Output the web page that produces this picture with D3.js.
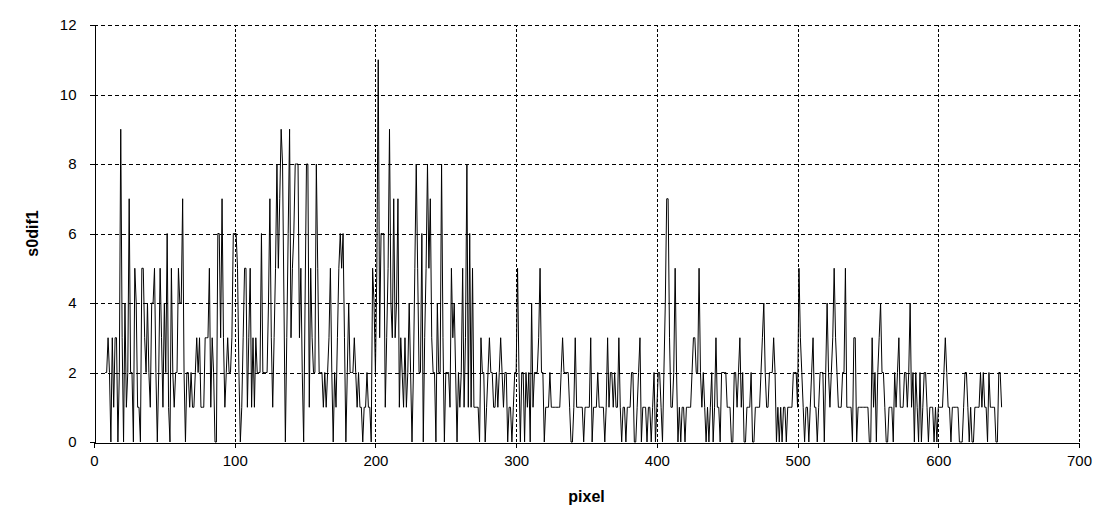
<!DOCTYPE html>
<html>
<head>
<meta charset="utf-8">
<script src="https://cdn.jsdelivr.net/npm/d3@7/dist/d3.min.js"></script>
<style>
  body { margin: 0; background: #fff; }
  svg { font-family: "Liberation Sans", Arial, sans-serif; }
</style>
</head>
<body>
<div id="chart"></div>
<script>
// s0dif1 value for each pixel, starting at pixel 8 (one array per hundred pixels)
const firstPixel = 8;
const s0dif1_000 = [2,2,3,2,0,3,1,3,3,0, 2,9,3,0,4,1,2,7,2,2, 0,5,4,1,1,0,5,5,3,2,
  4,2,1,4,4,5,2,0,2,5, 3,1,4,2,6,1,0,5,2,1, 2,2,5,4,4,7,2,0,2,2, 1,2,1,1,2,3,2,3,1,1,
  1,3,3,3,5,1,3,2,0,0, 6,6,3,7,3,1,2,3,2,2, 3,6];
const s0dif1_100 = [6,6,5,2,0,1,3,5,5,1, 3,5,1,3,1,3,2,2,2,6, 2,2,2,2,4,7,3,1,3,5,
  8,5,7,9,8,4,0,3,6,9, 3,5,6,8,8,8,3,5,2,0, 4,8,8,1,5,3,2,2,8,5, 2,2,2,1,2,1,2,3,5,2,
  0,2,1,3,5,6,5,6,3,0, 2,4,2,2,2,3,2,1,2,1, 1,0,1,1,2,1,1,0,5,4];
const s0dif1_200 = [2,5,11,3,6,6,6,1,3,5, 9,4,3,7,3,4,7,1,3,2, 1,3,1,2,4,2,0,2,5,8,
  5,2,2,6,0,3,5,8,5,7, 3,2,2,0,4,2,2,8,3,0, 2,2,2,1,5,3,4,2,0,2, 1,2,5,1,3,8,1,6,1,5,
  1,1,1,1,0,3,2,2,0,1, 2,3,2,2,1,1,2,1,2,3, 2,1,2,2,0,1,1,0,1,2];
const s0dif1_300 = [2,5,2,0,2,2,0,2,1,2, 0,4,1,2,2,2,3,5,2,2, 0,1,1,1,2,1,1,1,1,1,
  1,1,2,3,2,2,2,2,1,0, 0,1,3,1,1,1,1,1,0,1, 1,1,1,3,0,1,1,1,2,1, 1,1,1,0,1,3,1,2,2,1,
  2,1,1,3,1,0,1,1,0,1, 1,1,2,2,0,0,1,2,3,0, 1,1,1,0,1,1,0,1,2,0];
const s0dif1_400 = [1,2,2,1,0,2,4,7,7,3, 1,1,2,5,2,0,1,0,1,1, 0,1,1,1,1,2,3,3,2,2,
  5,2,1,2,1,0,1,0,1,2, 0,1,3,1,1,0,2,2,2,2, 1,1,1,0,0,2,2,1,2,3, 1,2,0,0,1,1,1,2,0,0,
  1,1,1,1,2,3,4,2,1,1, 2,2,2,3,2,0,1,0,1,0, 1,1,0,1,1,1,1,2,2,2];
const s0dif1_500 = [1,5,3,2,1,0,1,1,0,1, 2,3,1,1,0,1,2,2,2,0, 2,4,2,1,2,3,5,3,2,1,
  1,1,2,2,5,1,1,1,1,0, 3,3,0,1,1,1,1,1,1,1, 1,0,0,3,1,2,0,2,3,4, 2,2,1,0,0,1,1,1,0,2,
  1,2,3,1,1,1,2,2,1,2, 4,1,2,0,2,1,0,2,0,1, 2,2,1,0,1,1,1,0,1,0];
const s0dif1_600 = [1,1,1,1,2,3,2,1,1,0, 1,1,1,1,1,0,0,0,1,2, 2,1,0,1,0,0,1,1,1,1,
  2,1,2,1,1,0,2,1,1,1, 1,0,0,2,2,1];

const xTicks = [0, 100, 200, 300, 400, 500, 600, 700];
const yTicks = [0, 2, 4, 6, 8, 10, 12];

const values = [].concat(s0dif1_000, s0dif1_100, s0dif1_200, s0dif1_300,
  s0dif1_400, s0dif1_500, s0dif1_600);
const data = values.map((v, i) => ({ pixel: firstPixel + i, value: v }));

const width = 1098, height = 527;
const margin = { left: 94, right: 19, top: 25, bottom: 85 };

const svg = d3.select('#chart').append('svg')
  .attr('width', width)
  .attr('height', height);

const x = d3.scaleLinear().domain([0, 700]).range([margin.left, width - margin.right]);
const y = d3.scaleLinear().domain([0, 12]).range([height - margin.bottom, margin.top]);

// grid lines
const grid = svg.append('g').attr('shape-rendering', 'crispEdges');
grid.selectAll('.hgrid')
  .data(yTicks.filter(d => d > 0))
  .enter().append('line')
  .attr('x1', x(0)).attr('x2', x(700))
  .attr('y1', d => Math.round(y(d)) + 0.5).attr('y2', d => Math.round(y(d)) + 0.5)
  .attr('stroke', '#000')
  .attr('stroke-dasharray', '4,3');
grid.selectAll('.vgrid')
  .data(xTicks.filter(d => d > 0))
  .enter().append('line')
  .attr('x1', d => Math.round(x(d)) + 0.5).attr('x2', d => Math.round(x(d)) + 0.5)
  .attr('y1', y(0)).attr('y2', y(12))
  .attr('stroke', '#000')
  .attr('stroke-dasharray', '3,2');

// the series
const line = d3.line()
  .x(d => x(d.pixel))
  .y(d => y(d.value));

svg.append('path')
  .datum(data)
  .attr('fill', 'none')
  .attr('stroke', '#000')
  .attr('stroke-width', 1)
  .attr('d', line);

// axes
const xAxis = svg.append('g')
  .attr('transform', `translate(0, ${Math.round(y(0)) + 0.5})`)
  .call(d3.axisBottom(x).tickValues(xTicks).tickSize(5).tickSizeOuter(0).tickPadding(8));
const yAxis = svg.append('g')
  .attr('transform', `translate(${Math.round(x(0)) + 0.5}, 0)`)
  .call(d3.axisLeft(y).tickValues(yTicks).tickSize(5).tickSizeOuter(0).tickPadding(13));

[xAxis, yAxis].forEach(a => {
  a.selectAll('text').attr('font-size', 15).attr('fill', '#000')
    .attr('font-family', '"Liberation Sans", Arial, sans-serif');
  a.selectAll('line, path').attr('stroke', '#000').attr('shape-rendering', 'crispEdges');
});

// axis titles
svg.append('text')
  .attr('x', (x(0) + x(700)) / 2)
  .attr('y', 502)
  .attr('text-anchor', 'middle')
  .attr('font-size', 16)
  .attr('font-weight', 'bold')
  .text('pixel');

svg.append('text')
  .attr('transform', `translate(38, ${(y(0) + y(12)) / 2}) rotate(-90)`)
  .attr('text-anchor', 'middle')
  .attr('font-size', 16)
  .attr('font-weight', 'bold')
  .text('s0dif1');
</script>
</body>
</html>
